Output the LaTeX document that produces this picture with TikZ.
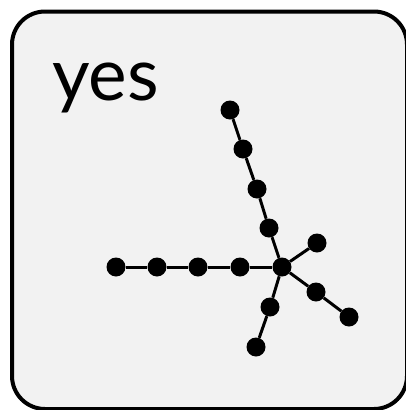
\documentclass[tikz,border=0pt]{standalone}
\usepackage{fontspec}
\setmainfont{Lato}
\definecolor{panelgray}{HTML}{F2F2F2}
\tikzset{
  vtx/.style={circle,fill=black,inner sep=0pt,minimum size=19pt},
  edge/.style={line width=3pt,black},
  panel/.style={draw=black,line width=4pt,fill=panelgray,rounded corners=33pt}
}
\begin{document}
\begin{tikzpicture}[x=1pt,y=-1pt]
\useasboundingbox (0,0) rectangle (405,410);
\draw[panel] (12,11.5) rectangle (407,409);
\node[anchor=base west,inner sep=0pt,font=\fontsize{73}{73}\selectfont] (lbl) at (52,100) {yes};
\node[vtx] (c) at (282,267) {};
\node[vtx] (t1) at (269,228) {};
\node[vtx] (t2) at (257,189) {};
\node[vtx] (t3) at (243,149) {};
\node[vtx] (t4) at (230,110) {};
\node[vtx] (l1) at (240,267) {};
\node[vtx] (l2) at (198,267) {};
\node[vtx] (l3) at (157,267) {};
\node[vtx] (l4) at (116,267) {};
\node[vtx] (ur) at (317,243) {};
\node[vtx] (r1) at (316,292) {};
\node[vtx] (r2) at (349,317) {};
\node[vtx] (d1) at (270,307) {};
\node[vtx] (d2) at (256,347) {};
\draw[edge] (c) -- (t1) -- (t2) -- (t3) -- (t4);
\draw[edge] (c) -- (l1) -- (l2) -- (l3) -- (l4);
\draw[edge] (c) -- (ur);
\draw[edge] (c) -- (r1) -- (r2);
\draw[edge] (c) -- (d1) -- (d2);
\end{tikzpicture}
\end{document}
